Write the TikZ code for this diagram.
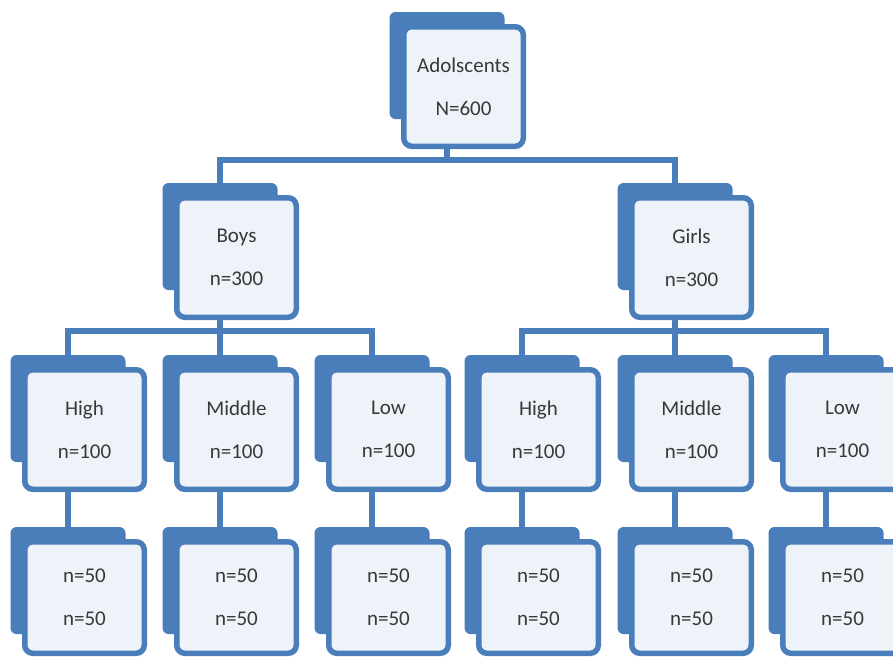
\documentclass[tikz,border=0pt]{standalone}
\usepackage{fontspec}
\setmainfont{Carlito}
\definecolor{orgblue}{HTML}{4A7EBB}
\definecolor{orgfill}{HTML}{EEF2F9}
\definecolor{orgtext}{HTML}{383838}
\tikzset{
  backbox/.style={fill=orgblue, draw=none, rounded corners=6pt, inner sep=0pt,
    outer sep=0pt, minimum width=115pt, minimum height=107pt},
  frontbox/.style={fill=orgfill, draw=orgblue, line width=5.5pt, rounded corners=8pt,
    inner sep=0pt, minimum width=119.5pt, minimum height=119.5pt, align=center,
    text=orgtext, font=\fontsize{21}{43}\selectfont},
  leafbox/.style={frontbox, minimum height=111.5pt},
  conn/.style={draw=orgblue, line width=5.5pt}
}
% one unit: a filled back plate with a framed card in front of it;
% the plate is centred on the column x, the card sits lower right
\newcommand\orgunit[4]{%
  \node[backbox] (#1b) at ({#2},{#3+53.5}) {};
  \node[frontbox] (#1) at ({#2+16.5},{#3+74.5}) {#4};
}
\newcommand\orgleaf[4]{%
  \node[backbox] (#1b) at ({#2},{#3+53.5}) {};
  \node[leafbox] (#1) at ({#2+16.5},{#3+70.5}) {#4};
}
\begin{document}
\begin{tikzpicture}[x=1pt,y=-1pt]
  \useasboundingbox[fill=white] (0,0) rectangle (893,657);
  \clip (0,0) rectangle (893,657);

  % root
  \orgunit{root}{447}{12}{Adolscents\\N=600}

  % gender
  \orgunit{boys}{220}{183}{Boys\\n=300}
  \orgunit{girls}{675}{183}{Girls\\n=300}

  % levels
  \orgunit{bh}{68}{355}{High\\n=100}
  \orgunit{bm}{220}{355}{Middle\\n=100}
  \orgunit{bl}{372}{355}{Low\\n=100}
  \orgunit{gh}{522}{355}{High\\n=100}
  \orgunit{gm}{675}{355}{Middle\\n=100}
  \orgunit{gl}{826}{355}{Low\\n=100}

  % leaves
  \orgleaf{bh2}{68}{527}{n=50\\n=50}
  \orgleaf{bm2}{220}{527}{n=50\\n=50}
  \orgleaf{bl2}{372}{527}{n=50\\n=50}
  \orgleaf{gh2}{522}{527}{n=50\\n=50}
  \orgleaf{gm2}{675}{527}{n=50\\n=50}
  \orgleaf{gl2}{826}{527}{n=50\\n=50}

  % connectors
  \coordinate (j0) at (447,160);
  \draw[conn] (rootb.north |- root.south) -- (j0);
  \draw[conn] (boysb.north) |- (j0) -| (girlsb.north);

  \coordinate (j1) at (220,331);
  \draw[conn] (boysb.north |- boys.south) -- (j1);
  \draw[conn] (bhb.north) |- (j1) -| (blb.north);
  \draw[conn] (j1) -- (bmb.north);

  \coordinate (j2) at (675,331);
  \draw[conn] (girlsb.north |- girls.south) -- (j2);
  \draw[conn] (ghb.north) |- (j2) -| (glb.north);
  \draw[conn] (j2) -- (gmb.north);

  \foreach \a in {bh,bm,bl,gh,gm,gl}
    \draw[conn] (\a b.north |- \a.south) -- (\a2b.north);
\end{tikzpicture}
\end{document}
